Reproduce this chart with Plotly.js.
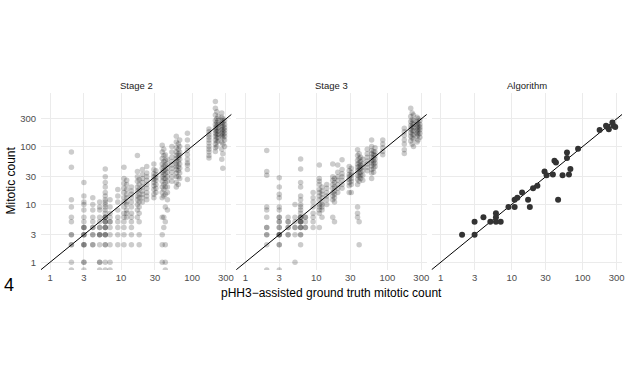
<!DOCTYPE html>
<html>
<head>
<meta charset="utf-8">
<script src="https://cdn.plot.ly/plotly-3.0.1.min.js"></script>
<style>html,body{margin:0;padding:0;background:#fff;}</style>
</head>
<body>
<div id="chart" style="width:626px;height:375px;"></div>
<script>
// ---- Data ----
const panelTitles = ['Stage 2', 'Stage 3', 'Algorithm'];
const tickVals = [1, 3, 10, 30, 100, 300];
const tickText = ['1', '3', '10', '30', '100', '300'];

// ground-truth counts for the stage panels (one column per value)
const stageX = [2, 3, 4, 5, 6, 7, 9, 11, 12, 14, 17, 18, 20, 23, 29, 31, 38, 40, 42, 45, 52, 60, 64, 67, 86, 173, 213, 223, 233, 262, 271, 287];

const stage2Counts = [
  [80, 44, 12, 9, 6, 5, 3, 3, 2, 2, 1, 0],
  [24, 14, 11, 10, 8, 6, 5, 4, 4, 4, 3, 3, 3, 2, 2, 2, 1, 1, 0],
  [13, 10, 8, 6, 5, 4, 4, 3, 3, 2, 2],
  [11, 9, 8, 6, 5, 4, 4, 3, 3, 3, 2, 1, 1, 0],
  [41, 30, 24, 20, 16, 14, 12, 11, 10, 9, 8, 7, 6, 6, 6, 5, 5, 5, 4, 4, 4, 3, 3, 3, 2, 2, 1, 0],
  [12, 9, 7, 6, 5, 5, 4, 3, 2, 1, 0],
  [18, 14, 11, 8, 6, 5, 4, 3, 2],
  [44, 28, 23, 19, 16, 13, 11, 9, 7, 6, 5, 4, 3, 2],
  [26, 22, 18, 15, 13, 11, 10, 8, 7, 6],
  [20, 17, 15, 13, 11, 9, 7, 6, 5, 4, 3, 2],
  [70, 37, 30, 25, 20, 17, 14, 12, 10, 8, 6],
  [27, 22, 18, 15, 13, 11, 9, 7, 5, 3, 2],
  [40, 33, 28, 24, 20, 17, 15, 13, 11],
  [45, 35, 30, 26, 22, 19, 16, 14, 12],
  [50, 40, 34, 30, 27, 24, 21, 18, 15, 13],
  [38, 33, 29, 26, 22, 19, 16],
  [105, 80, 62, 50, 42, 36, 30, 25, 20, 16, 13, 6, 3, 2, 1],
  [90, 70, 55, 45, 38, 33, 28, 22, 18, 14, 6, 4],
  [72, 58, 48, 40, 34, 28, 24, 20, 15, 9, 5, 2, 1, 0],
  [60, 50, 42, 36, 30, 25, 20, 16, 12, 8],
  [100, 80, 65, 55, 48, 42, 36, 30, 25],
  [150, 120, 95, 80, 70, 62, 55, 50, 45, 40, 35, 30, 24, 20],
  [110, 90, 75, 65, 55, 45, 38, 30, 22],
  [130, 100, 80, 70, 60, 50, 42, 35, 28],
  [170, 130, 100, 85, 72, 60, 52, 48, 40, 27],
  [200, 180, 160, 145, 130, 115, 100, 90, 80, 70, 63],
  [600, 460, 350, 280, 240, 210, 190, 170, 150, 130, 110, 95, 82],
  [400, 300, 260, 230, 200, 180, 160, 140, 120, 100],
  [330, 280, 240, 210, 185, 165, 145, 125],
  [380, 320, 280, 250, 220, 195, 170, 150, 120, 90, 60],
  [300, 260, 230, 200, 180, 160, 140, 110, 75, 42],
  [280, 240, 210, 190, 170, 150, 130, 100]
];

const stage3Counts = [
  [85, 37, 32, 9, 8, 6, 4, 4, 3, 3, 2, 0],
  [29, 20, 15, 13, 9, 8, 6, 6, 5, 5, 4, 4, 3, 3, 3, 3, 2, 2, 0],
  [6, 5, 5, 4, 4, 3, 3],
  [10, 6, 5, 4, 4, 3, 1],
  [61, 41, 24, 20, 14, 12, 10, 9, 8, 7, 6, 6, 6, 5, 5, 5, 5, 4, 4, 4, 3, 3, 2],
  [6, 6, 5, 4, 4],
  [16, 13, 11, 9, 7, 6, 5, 4],
  [48, 28, 25, 22, 18, 16, 14, 12, 10, 9, 8, 7, 4],
  [20, 17, 15, 13, 11, 10, 9, 8, 6],
  [22, 19, 16, 14, 12, 10],
  [50, 30, 26, 22, 19, 16, 14, 12, 6],
  [28, 24, 20, 17, 15, 13, 11, 5],
  [48, 36, 30, 26, 22, 19, 16],
  [59, 40, 34, 30, 26, 22, 19],
  [45, 38, 33, 30, 27, 24, 21, 16],
  [42, 36, 32, 28, 25, 22, 16],
  [88, 70, 58, 50, 44, 38, 32, 27, 22, 9, 7, 6],
  [75, 62, 52, 45, 40, 35, 30, 25, 5, 2],
  [65, 55, 48, 42, 36, 32, 28],
  [60, 50, 44, 38, 32, 26],
  [90, 75, 65, 56, 50, 44, 38],
  [130, 100, 85, 75, 66, 58, 52, 46, 40, 35, 28],
  [82, 72, 64, 56, 50, 42, 36],
  [95, 80, 70, 60, 52, 45],
  [130, 110, 95, 82, 72],
  [207, 180, 155, 130, 110, 88, 76],
  [460, 330, 270, 230, 200, 175, 150, 125],
  [380, 290, 250, 220, 190, 165, 140, 110],
  [350, 280, 240, 210, 185, 160, 135, 100],
  [320, 270, 240, 215, 190, 170, 150, 120],
  [300, 255, 225, 200, 180, 160, 130],
  [280, 240, 215, 195, 170, 145]
];

const algoX = [2, 3, 3, 4, 5, 6, 6, 6, 7, 9, 11, 11, 12, 14, 17, 18, 20, 23, 29, 31, 38, 40, 42, 45, 52, 60, 60, 64, 67, 86, 173, 213, 223, 233, 262, 271, 287];
const algoY = [3, 5, 3, 6, 5, 7, 6, 5, 5, 9, 9, 12, 13, 16, 12, 9, 19, 21, 37, 32, 33, 57, 53, 12, 32, 63, 79, 33, 41, 91, 192, 229, 217, 198, 261, 229, 217];

// ---- Scales ----
const XR = [-0.127, 2.553];
const YR = [-0.133, 2.924];
const yFloor = Math.pow(10, YR[0]); // zero counts sit on the panel edge (log of 0 = -Inf)

function flatten(counts) {
  const xs = [], ys = [];
  counts.forEach((col, i) => col.forEach(v => { xs.push(stageX[i]); ys.push(v > 0 ? v : yFloor); }));
  return {xs, ys};
}

const font = 'Liberation Sans, Arial, Helvetica, sans-serif';
const s2 = flatten(stage2Counts);
const s3 = flatten(stage3Counts);
const lineEnds = [Math.pow(10, Math.min(XR[0], YR[0])), Math.pow(10, Math.max(XR[1], YR[1]))];

const traces = [];
['', '2', '3'].forEach((k) => {
  traces.push({
    x: lineEnds, y: lineEnds, xaxis: 'x' + k, yaxis: 'y' + k,
    mode: 'lines', line: {color: '#000', width: 1}, hoverinfo: 'skip', showlegend: false
  });
});
traces.push({x: s2.xs, y: s2.ys, xaxis: 'x', yaxis: 'y', mode: 'markers', showlegend: false,
  marker: {color: 'rgba(0,0,0,0.2)', size: 5.5, line: {width: 0}}});
traces.push({x: s3.xs, y: s3.ys, xaxis: 'x2', yaxis: 'y2', mode: 'markers', showlegend: false,
  marker: {color: 'rgba(0,0,0,0.2)', size: 5.5, line: {width: 0}}});
traces.push({x: algoX, y: algoY, xaxis: 'x3', yaxis: 'y3', mode: 'markers', showlegend: false,
  marker: {color: '#333333', size: 6, line: {width: 0}}});

const M = {l: 41, r: 4, t: 93, b: 105};
const W = 626, H = 375;
const pw = W - M.l - M.r, ph = H - M.t - M.b;
const px = v => (v - M.l) / pw;
const py = v => (H - M.b - v) / ph;

function xa(dom) {
  return {type: 'log', range: XR, domain: dom, tickvals: tickVals, ticktext: tickText,
    showgrid: true, gridcolor: '#ebebeb', gridwidth: 1, zeroline: false, showline: false,
    ticks: '', tickfont: {family: font, size: 9.5, color: '#4d4d4d'}, fixedrange: true};
}
function ya(anchor, showLabels) {
  return {type: 'log', range: YR, anchor: anchor, tickvals: tickVals, ticktext: tickText,
    showgrid: true, gridcolor: '#ebebeb', gridwidth: 1, zeroline: false, showline: false,
    ticks: '', showticklabels: showLabels, ticklabelstandoff: 4,
    tickfont: {family: font, size: 9.5, color: '#4d4d4d'}, fixedrange: true};
}

const doms = [[0, 0.3276], [0.3362, 0.6638], [0.6724, 1]];
const annotations = panelTitles.map((t, i) => ({
  text: t, xref: 'paper', yref: 'paper', x: (doms[i][0] + doms[i][1]) / 2, y: py(85),
  xanchor: 'center', yanchor: 'middle', showarrow: false,
  font: {family: font, size: 9.5, color: '#1a1a1a'}
}));
annotations.push({text: 'Mitotic count', xref: 'paper', yref: 'paper', x: px(10.5), y: py(181),
  textangle: -90, xanchor: 'center', yanchor: 'middle', showarrow: false,
  font: {family: font, size: 12, color: '#000'}});
annotations.push({text: 'pHH3\u2212assisted ground truth mitotic count', xref: 'paper', yref: 'paper',
  x: px(331), y: py(293), xanchor: 'center', yanchor: 'middle', showarrow: false,
  font: {family: font, size: 12, color: '#000'}});
annotations.push({text: '4', xref: 'paper', yref: 'paper', x: px(8.5), y: py(285),
  xanchor: 'center', yanchor: 'middle', showarrow: false,
  font: {family: font, size: 18, color: '#000'}});

const layout = {
  width: W, height: H, margin: M,
  paper_bgcolor: '#fff', plot_bgcolor: '#fff', showlegend: false,
  xaxis: xa(doms[0]), xaxis2: xa(doms[1]), xaxis3: xa(doms[2]),
  yaxis: ya('x', true), yaxis2: ya('x2', false), yaxis3: ya('x3', false),
  annotations: annotations
};

Plotly.newPlot('chart', traces, layout, {displayModeBar: false, staticPlot: true});
</script>
</body>
</html>
